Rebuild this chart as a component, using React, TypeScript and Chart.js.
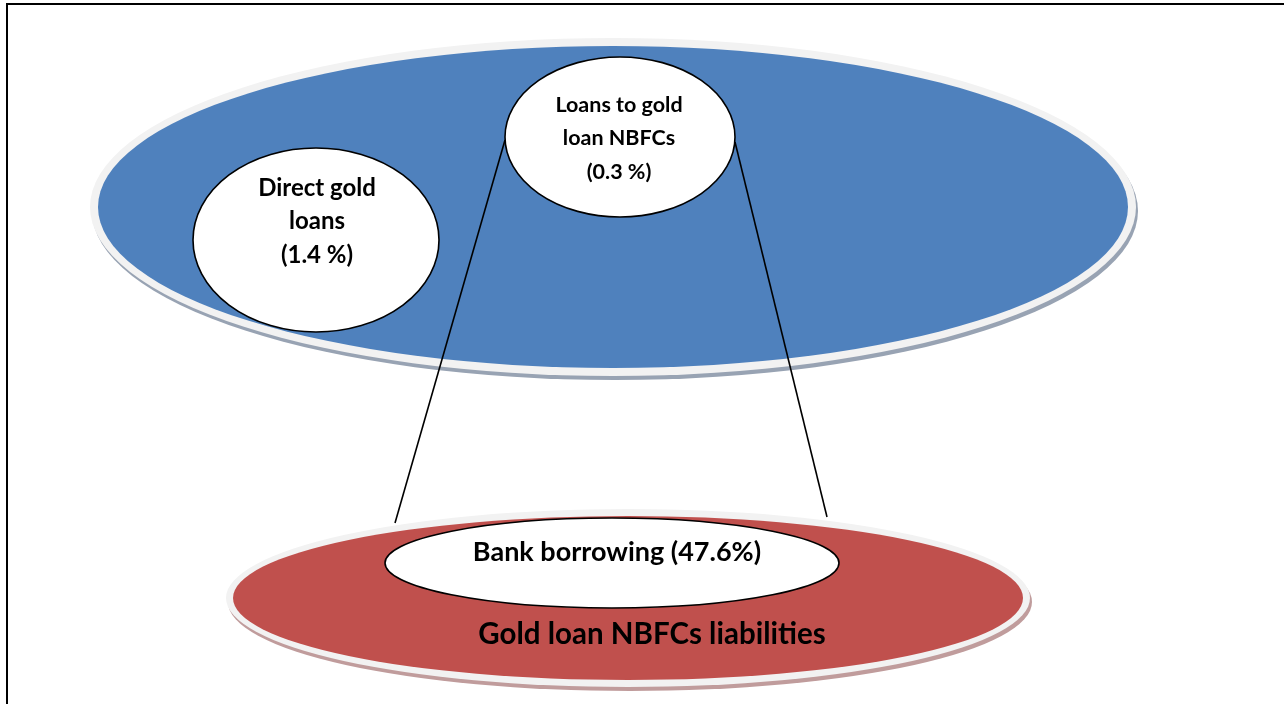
import { useEffect, useRef } from "react";
import { Chart, registerables } from "chart.js";

Chart.register(...registerables);

// ---- data ----
const segmentNames = ["Direct gold loans", "Loans to gold loan NBFCs", "Bank borrowing"];
const segmentShares = [1.4, 0.3, 47.6];
const segmentLines = [["Direct gold", "loans"], ["Loans to gold", "loan NBFCs"], []];
const groupTitles = ["", "Gold loan NBFCs liabilities"];

// ---- layout (in scale units) ----
const groupCentersX = [613, 628];
const groupCentersY = [207, 598];
const groupRadiiX = [515, 395];
const groupRadiiY = [161, 82];
const groupTitleY = [0, 634];
const groupFill = ["#4F81BD", "#C0504D"];
const groupShadow = ["#98A3B3", "#C09C9C"];
const groupRing = [8, 7];

const segmentCentersX = [316, 620, 612];
const segmentCentersY = [240, 137, 563];
const segmentRadiiX = [123, 115, 227];
const segmentRadiiY = [92, 80, 45];
const segmentTextX = [317, 619, 617];
const segmentTextY = [188, 105, 552];
const segmentFontSize = [24, 21.5, 27];
const segmentGroup = [0, 0, 1];

const connectorFrom = [
  { x: 505, y: 140 },
  { x: 735, y: 142 },
];
const connectorTo = [
  { x: 395, y: 523 },
  { x: 827, y: 517 },
];

const FONT = "Lato, 'Open Sans', sans-serif";

function ellipse(ctx: CanvasRenderingContext2D, cx: number, cy: number, rx: number, ry: number) {
  ctx.beginPath();
  ctx.ellipse(cx, cy, rx, ry, 0, 0, Math.PI * 2);
  ctx.closePath();
}

const diagramPlugin = {
  id: "diagram",
  afterDatasetsDraw(chart: any) {
    const ctx: CanvasRenderingContext2D = chart.ctx;
    const xs = chart.scales.x;
    const ys = chart.scales.y;
    const px = (v: number) => xs.getPixelForValue(v);
    const py = (v: number) => ys.getPixelForValue(v);
    const rX = (c: number, r: number) => Math.abs(px(c + r) - px(c));
    const rY = (c: number, r: number) => Math.abs(py(c + r) - py(c));

    ctx.save();

    const groupsData = chart.data.datasets[0].data;
    const segData = chart.data.datasets[1].data;

    const drawGroup = (g: number) => {
      const d = groupsData[g];
      const cx = px(d.x);
      const cy = py(d.y);
      const rx = rX(d.x, groupRadiiX[g]);
      const ry = rY(d.y, groupRadiiY[g]);
      const ring = groupRing[g];
      ellipse(ctx, cx + 2, cy + 4, rx + ring, ry + ring);
      ctx.fillStyle = groupShadow[g];
      ctx.fill();
      ellipse(ctx, cx, cy, rx + ring, ry + ring);
      ctx.fillStyle = "#F2F2F2";
      ctx.fill();
      ellipse(ctx, cx, cy, rx, ry);
      ctx.fillStyle = groupFill[g];
      ctx.fill();
    };

    const drawSegment = (i: number) => {
      const d = segData[i];
      const cx = px(d.x);
      const cy = py(d.y);
      ellipse(ctx, cx, cy, rX(d.x, segmentRadiiX[i]), rY(d.y, segmentRadiiY[i]));
      ctx.fillStyle = "#FFFFFF";
      ctx.fill();
      ctx.lineWidth = 1.6;
      ctx.strokeStyle = "#000000";
      ctx.stroke();
    };

    const drawSegmentText = (i: number) => {
      ctx.fillStyle = "#000000";
      ctx.textAlign = "center";
      ctx.textBaseline = "middle";
      const tx = px(segmentTextX[i]);
      const ty = py(segmentTextY[i]);
      ctx.font = `bold ${segmentFontSize[i]}px ${FONT}`;
      if (segmentLines[i].length) {
        const lines = [...segmentLines[i], `(${segmentShares[i]} %)`];
        lines.forEach((l, k) => ctx.fillText(l, tx, ty + k * 33.5));
      } else {
        ctx.fillText(`${segmentNames[i]} (${segmentShares[i]}%)`, tx, ty);
      }
    };

    // frame
    ctx.strokeStyle = "#000";
    ctx.lineWidth = 2;
    ctx.beginPath();
    ctx.moveTo(7, 704);
    ctx.lineTo(7, 4);
    ctx.lineTo(1284, 4);
    ctx.stroke();

    drawGroup(0);
    segmentGroup.forEach((g, i) => {
      if (g === 0) drawSegment(i);
    });

    ctx.strokeStyle = "#000";
    ctx.lineWidth = 1.6;
    connectorFrom.forEach((f, k) => {
      ctx.beginPath();
      ctx.moveTo(px(f.x), py(f.y));
      ctx.lineTo(px(connectorTo[k].x), py(connectorTo[k].y));
      ctx.stroke();
    });

    drawGroup(1);
    segmentGroup.forEach((g, i) => {
      if (g === 1) drawSegment(i);
    });

    segmentGroup.forEach((_, i) => drawSegmentText(i));

    ctx.fillStyle = "#000";
    ctx.textAlign = "center";
    ctx.textBaseline = "middle";
    ctx.font = `bold 29.5px ${FONT}`;
    groupTitles.forEach((t, g) => {
      if (t) ctx.fillText(t, px(groupsData[g].x + 24), py(groupTitleY[g]));
    });

    ctx.restore();
  },
};

export default function App() {
  const ref = useRef<HTMLCanvasElement>(null);
  useEffect(() => {
    document.body.style.margin = "0";
    const canvas = ref.current!;
    const chart = new Chart(canvas, {
      type: "scatter",
      data: {
        datasets: [
          {
            label: "Groups",
            data: groupCentersX.map((x, i) => ({ x, y: groupCentersY[i] })),
            pointRadius: 0,
          },
          {
            label: "Segments",
            data: segmentCentersX.map((x, i) => ({ x, y: segmentCentersY[i] })),
            pointRadius: 0,
          },
        ],
      },
      options: {
        animation: false,
        responsive: false,
        events: [],
        layout: { padding: 0 },
        plugins: { legend: { display: false }, tooltip: { enabled: false } },
        scales: {
          x: { type: "linear", min: 0, max: 1284, display: false },
          y: { type: "linear", min: 0, max: 704, reverse: true, display: false },
        },
      },
      plugins: [diagramPlugin],
    });
    return () => chart.destroy();
  }, []);
  return <canvas ref={ref} width={1284} height={704} style={{ display: "block" }} />;
}
